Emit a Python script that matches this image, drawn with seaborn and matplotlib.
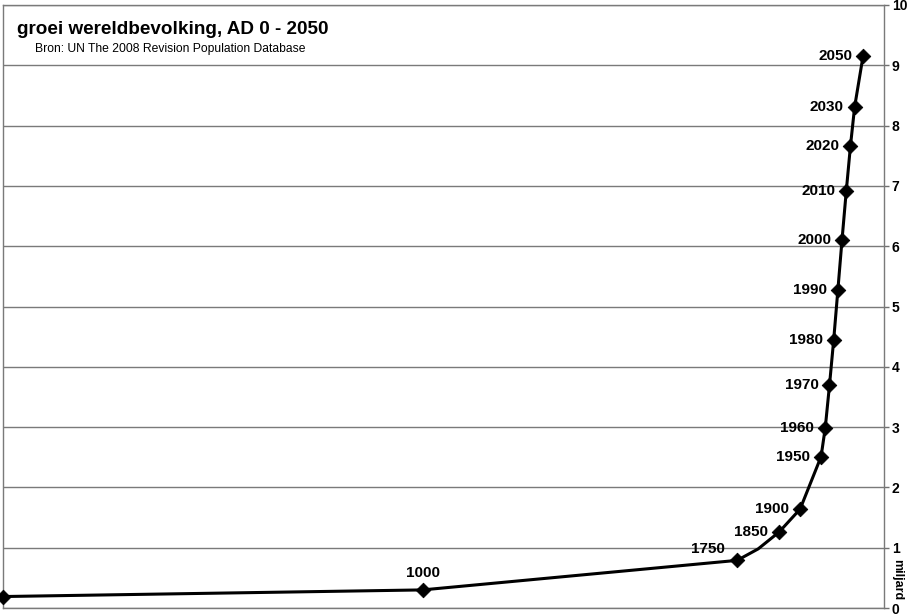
import matplotlib
matplotlib.use('Agg')
import matplotlib.pyplot as plt
import matplotlib.transforms as mtransforms
import seaborn as sns
import pandas as pd

# data, population in billions
years = [0, 1000, 1750, 1800, 1850, 1900, 1950, 1960, 1970, 1980, 1990, 2000, 2010, 2020, 2030, 2050]
population = [0.19, 0.30, 0.79, 0.98, 1.26, 1.64, 2.51, 2.99, 3.69, 4.44, 5.27, 6.11, 6.91, 7.66, 8.31, 9.15]
marked = [True, True, True, False, True, True, True, True, True, True, True, True, True, True, True, True]
y_ticks = list(range(0, 11))

df = pd.DataFrame({'year': years, 'pop': population, 'marked': marked})
pts = df[df['marked']]

sns.set_style('white')
plt.rcParams['font.family'] = ['Liberation Sans', 'DejaVu Sans']
plt.rcParams['text.color'] = 'black'
plt.rcParams['ytick.labelcolor'] = 'black'

fig = plt.figure(figsize=(9.12, 6.16), dpi=100)
ax = fig.add_axes([3 / 912, 8 / 616, 881 / 912, 603 / 616])

sns.lineplot(x='year', y='pop', data=df, ax=ax, color='black', linewidth=2.2, zorder=3)
sns.scatterplot(x='year', y='pop', data=pts, ax=ax, marker='D', s=55, color='black',
                edgecolor='black', zorder=4, clip_on=False)

ax.set_xlim(0, 2100)
ax.set_ylim(0, 10)
ax.set_xticks([])
ax.set_yticks(y_ticks)
ax.yaxis.tick_right()
ax.tick_params(axis='y', direction='out', length=3.5, width=1, color='#707070', pad=2,
               labelsize=10, labelcolor='black')
for lab in ax.get_yticklabels():
    lab.set_fontweight('bold')
ax.set_xlabel('')
ax.set_ylabel('')
ax.grid(axis='y', color='#7a7a7a', linewidth=1)
ax.set_axisbelow(True)
for side in ['left', 'right', 'bottom', 'top']:
    ax.spines[side].set_visible(True)
    ax.spines[side].set_color('#7a7a7a')
    ax.spines[side].set_linewidth(1)

# year labels next to the markers
for _, row in pts.iterrows():
    yr = int(row['year'])
    if yr == 0:
        continue
    if yr == 1000:
        off, ha, va = (0, 17), 'center', 'center'
    elif yr == 1750:
        off, ha, va = (-29, 11), 'center', 'center'
    else:
        off, ha, va = (-11, 0), 'right', 'center'
    ax.annotate(str(yr), (row['year'], row['pop']), xytext=off, textcoords='offset pixels',
                ha=ha, va=va, fontsize=11, fontweight='bold', color='black', zorder=5)

# title and source inside the plot area
fig.text(17 / 912, 1 - 30 / 616, 'groei wereldbevolking, AD 0 - 2050', fontsize=13.6,
         fontweight='bold', ha='left', va='center')
fig.text(35 / 912, 1 - 49 / 616, 'Bron: UN The 2008 Revision Population Database',
         fontsize=8.7, ha='left', va='center')

# unit label along the right axis
trans = mtransforms.blended_transform_factory(fig.transFigure, ax.transData)
fig.text(897 / 912, 0.47, 'miljard', transform=trans, rotation=270, fontsize=9,
         fontweight='bold', ha='center', va='center')

fig.savefig('out.png', dpi=100)
